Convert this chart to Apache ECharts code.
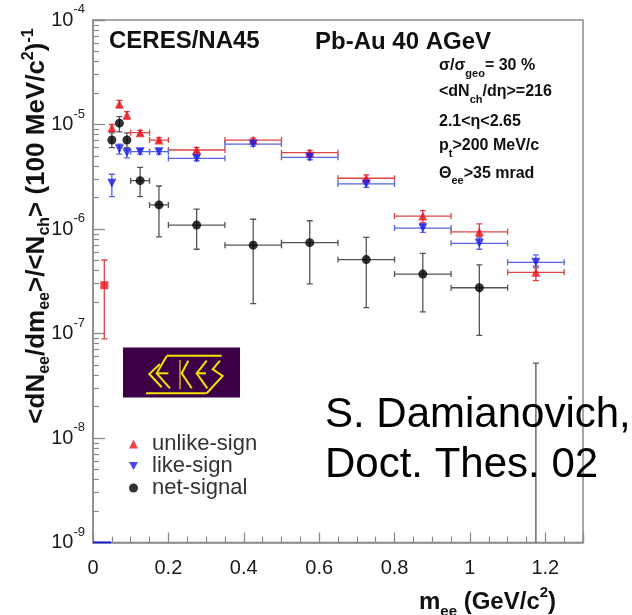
<!DOCTYPE html>
<html><head><meta charset="utf-8">
<script src="https://cdn.jsdelivr.net/npm/echarts@6/dist/echarts.min.js"></script>
<style>html,body{margin:0;padding:0;background:#fff}#c{width:632px;height:615px}</style>
</head><body><div id="c"></div>
<script>
// ---- data ----
const massBins      = [0.05, 0.07, 0.09, 0.125, 0.175, 0.275, 0.425, 0.575, 0.725, 0.875, 1.025, 1.175];
const massHalfWidth = [0, 0, 0, 0.025, 0.025, 0.075, 0.075, 0.075, 0.075, 0.075, 0.075, 0.075];

const unlikeSign = [9.3e-6, 1.57e-5, 1.23e-5, 8.35e-6, 7.1e-6, 5.7e-6, 7.1e-6, 5.37e-6, 3.06e-6, 1.33e-6, 9.4e-7, 3.85e-7];
const unlikeLow  = [8.6e-6, 1.45e-5, 1.13e-5, 7.9e-6, 6.7e-6, 5.4e-6, 6.8e-6, 5.1e-6, 2.85e-6, 1.15e-6, 8.5e-7, 3.2e-7];
const unlikeHigh = [1.0e-5, 1.7e-5, 1.33e-5, 8.8e-6, 7.5e-6, 6.0e-6, 7.4e-6, 5.65e-6, 3.3e-6, 1.5e-6, 1.12e-6, 4.4e-7];

const firstBinMass  = [0.03];
const firstBinValue = [2.9e-7];
const firstBinLow   = [8.9e-8];
const firstBinHigh  = [5.05e-7];

const likeSign = [2.74e-6, 5.83e-6, 5.37e-6, 5.5e-6, 5.5e-6, 4.75e-6, 6.5e-6, 4.85e-6, 2.7e-6, 1.02e-6, 7.3e-7, 4.8e-7];
const likeLow  = [2.04e-6, 5.2e-6, 4.8e-6, 5.2e-6, 5.2e-6, 4.5e-6, 6.2e-6, 4.6e-6, 2.5e-6, 9.3e-7, 6.4e-7, 4.25e-7];
const likeHigh = [3.34e-6, 6.5e-6, 6.0e-6, 5.8e-6, 5.8e-6, 5.0e-6, 6.8e-6, 5.1e-6, 2.9e-6, 1.12e-6, 8.2e-7, 5.65e-7];
const likeEmptyRange = [0, 0.048];

const netSignal = [7.1e-6, 1.03e-5, 7.1e-6, 2.9e-6, 1.7e-6, 1.09e-6, 7.0e-7, 7.4e-7, 5.1e-7, 3.7e-7, 2.74e-7, null];
const netLow    = [6.0e-6, 8.5e-6, 6.0e-6, 2.04e-6, 8.4e-7, 6.4e-7, 1.93e-7, 2.98e-7, 1.77e-7, 1.61e-7, 9.6e-8, 1e-10];
const netHigh   = [8.3e-6, 1.19e-5, 8.3e-6, 3.89e-6, 2.58e-6, 1.55e-6, 1.24e-6, 1.2e-6, 8.3e-7, 5.85e-7, 4.53e-7, 5.2e-8];

const seriesNames = ['unlike-sign', 'like-sign', 'net-signal'];

// ---- build ----
const FONT = "'Liberation Sans', Arial, Helvetica, sans-serif";
const RED = '#e8141e', RED_BAR = '#dd4444';
const BLUE = '#1a1ae6', BLUE_BAR = '#5566e0';
const BLACK = '#000000', BLACK_BAR = '#555555';

function errRows(masses, halfW, vals, lo, hi) {
  return masses.map((m, i) => {
    const missing = vals[i] == null;
    const hw = missing ? 0 : halfW[i];
    return [m, missing ? hi[i] : vals[i], m - hw, m + hw, lo[i], hi[i]];
  });
}
function pts(masses, vals) {
  const out = [];
  masses.forEach((m, i) => { if (vals[i] != null) out.push([m, vals[i]]); });
  return out;
}
function errSeries(rows, color) {
  return {
    type: 'custom', silent: true, clip: true, z: 2,
    encode: { x: 0, y: 1 },
    data: rows,
    renderItem: function (params, api) {
      const x = api.value(0), y = api.value(1), xl = api.value(2), xh = api.value(3), yl = api.value(4), yh = api.value(5);
      const ch = [];
      const st = { stroke: color, lineWidth: 1.3 };
      const cap = 3;
      if (xh > xl) {
        const a = api.coord([xl, y]), b = api.coord([xh, y]);
        ch.push({ type: 'line', shape: { x1: a[0], y1: a[1], x2: b[0], y2: b[1] }, style: st });
        ch.push({ type: 'line', shape: { x1: a[0], y1: a[1] - cap, x2: a[0], y2: a[1] + cap }, style: st });
        ch.push({ type: 'line', shape: { x1: b[0], y1: b[1] - cap, x2: b[0], y2: b[1] + cap }, style: st });
      }
      if (yh > yl) {
        const a = api.coord([x, yl]), b = api.coord([x, yh]);
        ch.push({ type: 'line', shape: { x1: a[0], y1: a[1], x2: b[0], y2: b[1] }, style: st });
        ch.push({ type: 'line', shape: { x1: a[0] - cap, y1: a[1], x2: a[0] + cap, y2: a[1] }, style: st });
        ch.push({ type: 'line', shape: { x1: b[0] - cap, y1: b[1], x2: b[0] + cap, y2: b[1] }, style: st });
      }
      return { type: 'group', children: ch };
    }
  };
}

const unlikeData = pts(firstBinMass, firstBinValue).map(p => ({ value: p, symbol: 'rect', symbolSize: 8 }))
  .concat(pts(massBins, unlikeSign));

const DOWN_TRI = 'path://M0,0L10,0L5,9Z';

const logoLines = [
  { pts: [[166.7,355.7],[221.7,355.7]] },
  { pts: [[160,364],[149.3,374],[161.7,387.3]] },
  { pts: [[166.7,356],[156.7,373.3],[170,388.3]] },
  { pts: [[156.7,373.3],[168.3,373.3]] },
  { pts: [[180,360],[180,389.3]], c: '#a8801c' },
  { pts: [[188.3,360.7],[181.7,373.3],[191.7,388.3]] },
  { pts: [[206.7,360.7],[196.7,373.3],[207.3,388.3]] },
  { pts: [[196.7,373.3],[206,373.3]] },
  { pts: [[220,360.7],[212.7,369.3],[222.7,376],[206.7,393.3]] },
  { pts: [[146,393.3],[206.7,393.3]] }
];

function rt(text, rich, x, y, extra, align) {
  return Object.assign({ type: 'text', x: x, y: y, z: 10, silent: true,
    style: { text: text, rich: rich, fill: '#111', align: align || 'left', verticalAlign: 'middle', fontFamily: FONT } }, extra || {});
}
const annRich = {
  m: { fontSize: 16, fontWeight: 'bold', fontFamily: FONT, lineHeight: 26, fill: '#111' },
  s: { fontSize: 11, fontWeight: 'bold', fontFamily: FONT, lineHeight: 12, verticalAlign: 'bottom', fill: '#111' }
};

const chart = echarts.init(document.getElementById('c'), null, { renderer: 'canvas' });
chart.setOption({
  backgroundColor: '#ffffff',
  animation: false,
  grid: { left: 93, right: 49, top: 20, bottom: 72.5, show: true, borderColor: '#8a8a8a', borderWidth: 1.5 },
  xAxis: {
    type: 'value', min: 0, max: 1.3, interval: 0.2,
    axisLine: { show: true, onZero: false, lineStyle: { color: '#8a8a8a', width: 1.5 } },
    axisTick: { show: true, inside: true, length: 10, lineStyle: { color: '#8a8a8a', width: 1.3 } },
    minorTick: { show: true, splitNumber: 4, length: 6, lineStyle: { color: '#8a8a8a', width: 1.2 } },
    splitLine: { show: false },
    axisLabel: { showMaxLabel: false, fontSize: 20, fontFamily: FONT, color: '#1a1a1a', margin: 16,
      formatter: v => String(Number(v.toFixed(1))) }
  },
  yAxis: {
    type: 'log', logBase: 10, min: 1e-9, max: 1e-4,
    axisLine: { show: true, lineStyle: { color: '#8a8a8a', width: 1.5 } },
    axisTick: { show: true, inside: true, length: 12, lineStyle: { color: '#8a8a8a', width: 1.3 } },
    minorTick: { show: true, splitNumber: 9, length: 6, lineStyle: { color: '#8a8a8a', width: 1.2 } },
    splitLine: { show: false },
    axisLabel: {
      margin: 8, color: '#1a1a1a',
      formatter: v => '{b|10}{s|' + Math.round(Math.log10(v)) + '}',
      rich: {
        b: { fontSize: 20, fontFamily: FONT, lineHeight: 34, color: '#1a1a1a' },
        s: { fontSize: 13, fontFamily: FONT, lineHeight: 13, verticalAlign: 'top', color: '#1a1a1a' }
      }
    }
  },
  legend: {
    orient: 'vertical', left: 124, top: 428, itemWidth: 9, itemHeight: 9, itemGap: 0,
    data: seriesNames,
    formatter: n => '{t|' + n + '}',
    textStyle: { fontSize: 22, fontFamily: FONT, color: '#333', lineHeight: 22,
      rich: { t: { fontSize: 22, fontFamily: FONT, color: '#333', lineHeight: 22, padding: [0, 0, 0, 9] } } }
  },
  series: [
    { type: 'line', silent: true, symbol: 'none', data: likeEmptyRange.map(m => [m, 1e-9]), lineStyle: { color: BLUE, width: 2 }, z: 3 },
    errSeries(errRows(firstBinMass, [0], firstBinValue, firstBinLow, firstBinHigh), RED_BAR),
    errSeries(errRows(massBins, massHalfWidth, unlikeSign, unlikeLow, unlikeHigh), RED_BAR),
    errSeries(errRows(massBins, massHalfWidth, likeSign, likeLow, likeHigh), BLUE_BAR),
    errSeries(errRows(massBins, massHalfWidth, netSignal, netLow, netHigh), BLACK_BAR),
    { name: seriesNames[0], type: 'scatter', symbol: 'triangle', symbolSize: 9, itemStyle: { color: RED }, data: unlikeData, z: 5 },
    { name: seriesNames[1], type: 'scatter', symbol: DOWN_TRI, symbolSize: 9, itemStyle: { color: BLUE }, data: pts(massBins, likeSign), z: 5 },
    { name: seriesNames[2], type: 'scatter', symbol: 'circle', symbolSize: 9, itemStyle: { color: BLACK }, data: pts(massBins, netSignal), z: 6 }
  ],
  graphic: [
    { type: 'text', x: 109, y: 41, z: 10, silent: true, style: { text: 'CERES/NA45', font: 'bold 24px ' + FONT, fill: '#111', verticalAlign: 'middle' } },
    { type: 'text', x: 315, y: 42.5, z: 10, silent: true, style: { text: 'Pb-Au 40 AGeV', font: 'bold 24px ' + FONT, fill: '#111', verticalAlign: 'middle' } },
    rt('{m|σ/σ}{s|geo}{m|= 30 %}', annRich, 439, 66),
    rt('{m|<dN}{s|ch}{m|/dη>=216}', annRich, 439, 92),
    rt('{m|2.1<η<2.65}', annRich, 439, 122),
    rt('{m|p}{s|t}{m|>200 MeV/c}', annRich, 439, 146),
    rt('{m|Θ}{s|ee}{m|>35 mrad}', annRich, 439, 173.5),
    rt('{m|<dN}{s|ee}{m|/dm}{s|ee}{m|>/<N}{s|ch}{m|> (100 MeV/c}{p|2}{m|)}{p|-1}',
      { m: { fontSize: 26, fontWeight: 'bold', fontFamily: FONT, lineHeight: 32, fill: '#111' },
        s: { fontSize: 16, fontWeight: 'bold', fontFamily: FONT, lineHeight: 15, verticalAlign: 'bottom', fill: '#111' },
        p: { fontSize: 16, fontWeight: 'bold', fontFamily: FONT, lineHeight: 15, verticalAlign: 'top', fill: '#111' } },
      37, 226, { rotation: Math.PI / 2 }, 'center'),
    rt('{m|m}{s|ee}{m| (GeV/c}{p|2}{m|)}',
      { m: { fontSize: 24, fontWeight: 'bold', fontFamily: FONT, lineHeight: 34, fill: '#111' },
        s: { fontSize: 15, fontWeight: 'bold', fontFamily: FONT, lineHeight: 14, verticalAlign: 'bottom', fill: '#111' },
        p: { fontSize: 15, fontWeight: 'bold', fontFamily: FONT, lineHeight: 14, verticalAlign: 'top', fill: '#111' } },
      419, 602),
    { type: 'text', x: 325, y: 415.5, z: 10, silent: true, style: { text: 'S. Damianovich,', font: '42px ' + FONT, fill: '#000', verticalAlign: 'middle' } },
    { type: 'text', x: 325, y: 465.5, z: 10, silent: true, style: { text: 'Doct. Thes. 02', font: '42px ' + FONT, fill: '#000', verticalAlign: 'middle' } },
    { type: 'group', z: 8, silent: true, children: [
      { type: 'rect', shape: { x: 123, y: 347.5, width: 117, height: 50 }, style: { fill: '#3c0046' } }
    ].concat(logoLines.map(l => ({ type: 'polyline', shape: { points: l.pts }, style: { stroke: l.c || '#f2e400', lineWidth: 2, fill: null } }))) }
  ]
});
</script>
</body></html>
